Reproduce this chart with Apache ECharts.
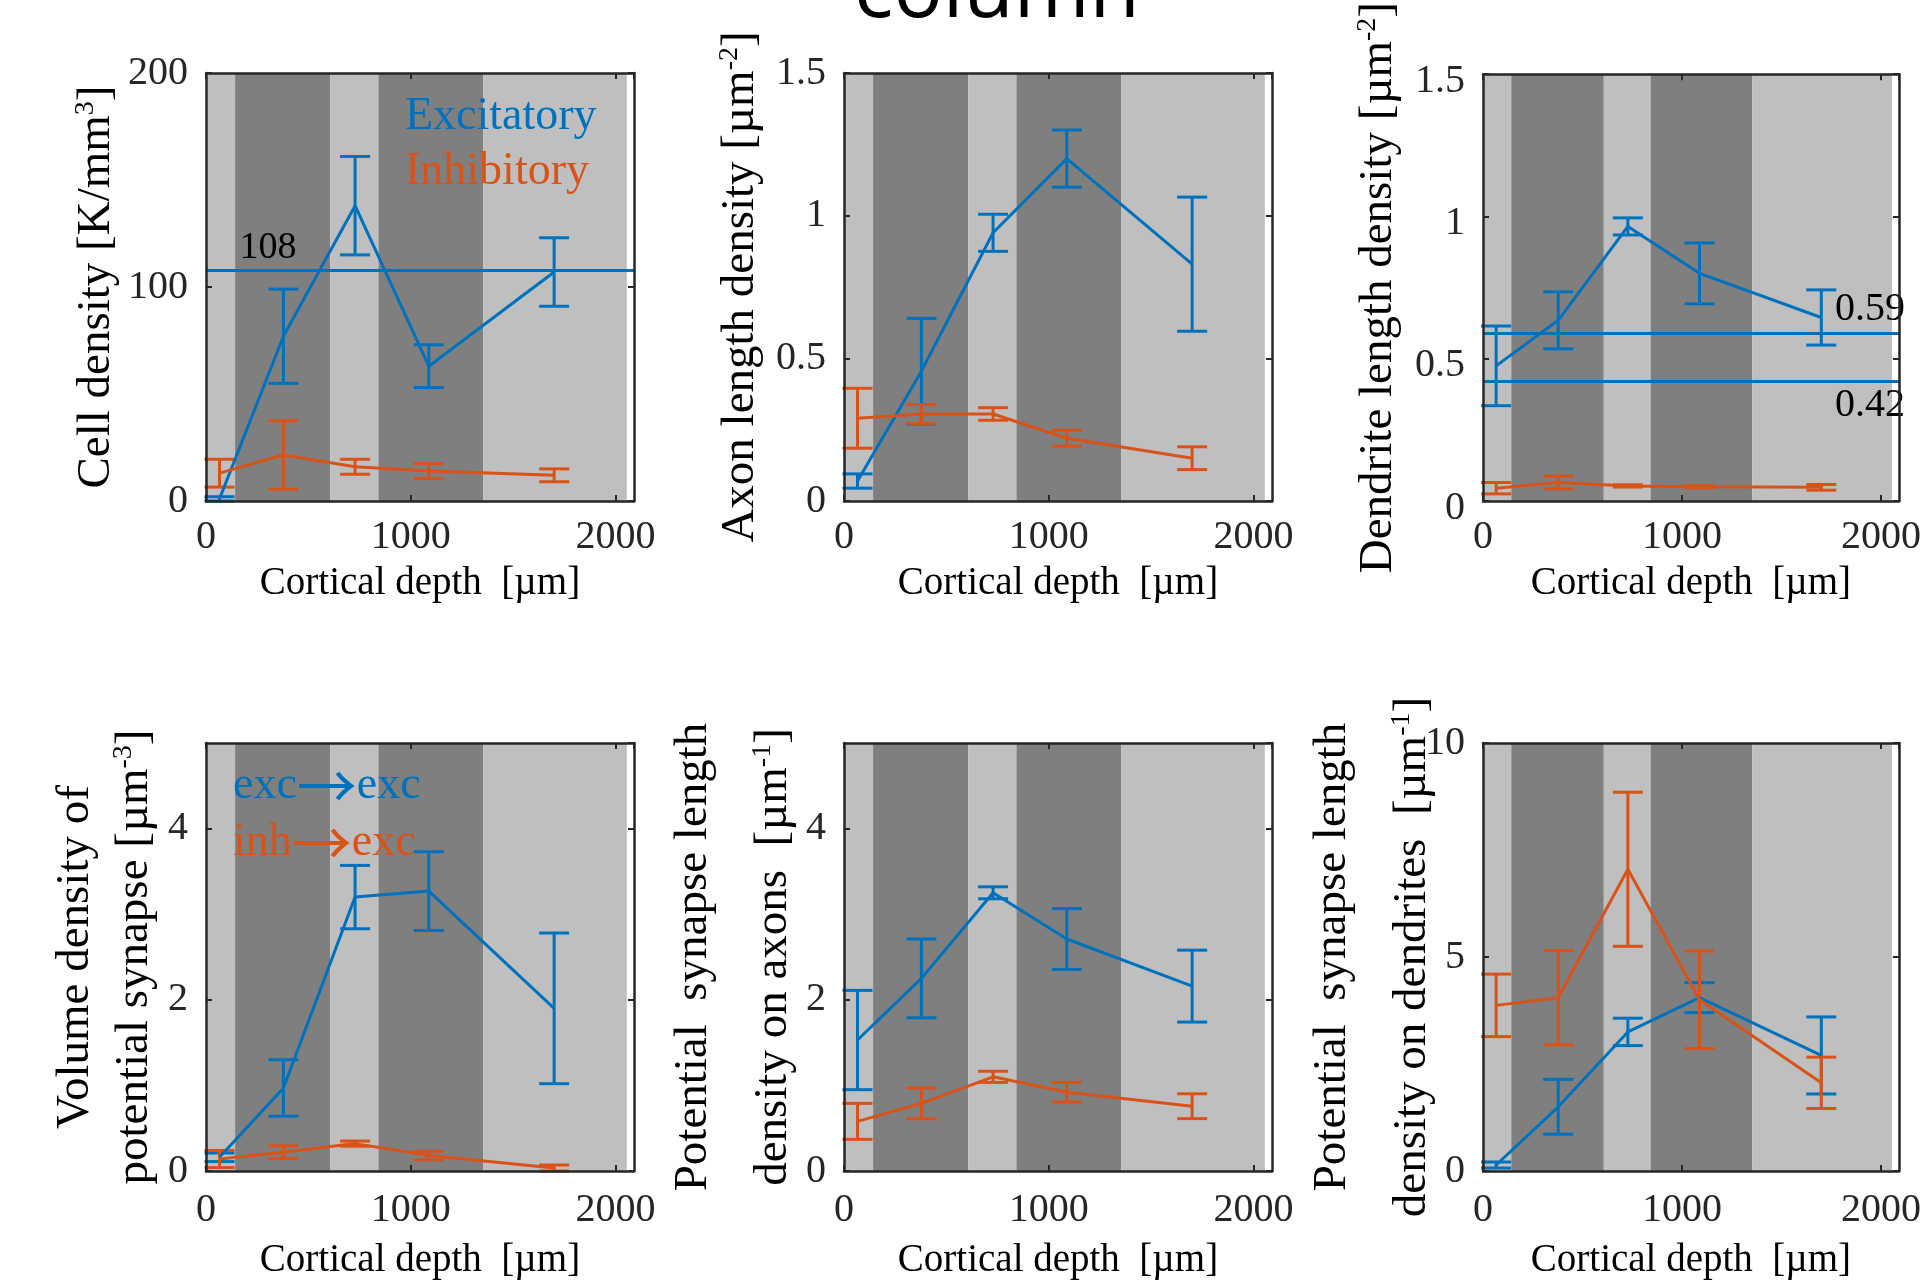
<html>
<head>
<meta charset="UTF-8">
<title>column</title>
<script src="https://cdn.jsdelivr.net/npm/echarts@6/dist/echarts.min.js"></script>
<style>
    html, body { margin: 0; padding: 0; background: #fff; }
    #main { width: 1924px; height: 1284px; }
</style>
</head>
<body>
<div id="main"></div>
<script>
// sample depths (um) and cortical layer edges
var depth = [66, 378, 728, 1088, 1700];
var layerEdges = [0, 142, 607, 842, 1353, 2055];
var yTicks = [[0, 200, 100], [0, 1.5, 0.5], [0, 1.5, 0.5], [0, 5, 2], [0, 5, 2], [0, 10, 5]];

// cell density [K/mm3]
var cellExc = [1, 77, 138, 63, 107];
var cellExcErr = [1, 22, 23, 10, 16];
var cellInh = [13, 21.5, 16, 14, 12];
var cellInhErr = [6.5, 16, 3.5, 3.5, 3];
var cellRef = [108];

// axon length density [um-2]
var axonExc = [0.07, 0.455, 0.94, 1.2, 0.83];
var axonExcErr = [0.025, 0.185, 0.065, 0.1, 0.235];
var axonInh = [0.29, 0.305, 0.305, 0.22, 0.15];
var axonInhErr = [0.105, 0.033, 0.022, 0.028, 0.04];

// dendrite length density [um-2]
var dendExc = [0.475, 0.635, 0.965, 0.8, 0.645];
var dendExcErr = [0.14, 0.1, 0.03, 0.107, 0.097];
var dendInh = [0.045, 0.065, 0.053, 0.05, 0.048];
var dendInhErr = [0.02, 0.022, 0.004, 0.004, 0.01];
var dendRef = [0.59, 0.42];

// volume density of potential synapses [um-3]
var volExc = [0.16, 0.97, 3.2, 3.27, 1.9];
var volExcErr = [0.05, 0.33, 0.37, 0.46, 0.88];
var volInh = [0.14, 0.22, 0.32, 0.18, 0.035];
var volInhErr = [0.1, 0.075, 0.03, 0.05, 0.035];

// potential synapse length density on axons [um-1]
var onAxExc = [1.53, 2.25, 3.25, 2.71, 2.16];
var onAxExcErr = [0.58, 0.46, 0.07, 0.355, 0.42];
var onAxInh = [0.58, 0.79, 1.1, 0.92, 0.757];
var onAxInhErr = [0.21, 0.18, 0.065, 0.115, 0.145];

// potential synapse length density on dendrites [um-1]
var onDeExc = [0.14, 1.5, 3.25, 4.05, 2.7];
var onDeExcErr = [0.07, 0.64, 0.32, 0.35, 0.9];
var onDeInh = [3.87, 4.05, 7.05, 4.0, 2.06];
var onDeInhErr = [0.73, 1.1, 1.8, 1.14, 0.6];

var blue = '#0072BD', orange = '#D95319', ink = '#262626';
var serif = '"Liberation Serif", "Times New Roman", serif';

// first line of two-line names gets a taller box to spread the lines
var panels = [
    {yName: 'Cell density [K/mm{sup|3}]', gap: 84, l1: 50,
     exc: cellExc, excErr: cellExcErr, inh: cellInh, inhErr: cellInhErr, names: ['Excitatory', 'Inhibitory']},
    {yName: 'Axon length density [µm{sup|-2}]', gap: 78, l1: 50,
     exc: axonExc, excErr: axonExcErr, inh: axonInh, inhErr: axonInhErr, names: ['Excitatory', 'Inhibitory']},
    {yName: 'Dendrite length density [µm{sup|-2}]', gap: 79, l1: 50,
     exc: dendExc, excErr: dendExcErr, inh: dendInh, inhErr: dendInhErr, names: ['Excitatory', 'Inhibitory']},
    {yName: '{l1|Volume density of}\npotential synapse [µm{sup|-3}]', gap: 46, l1: 68,
     exc: volExc, excErr: volExcErr, inh: volInh, inhErr: volInhErr, names: ['exc→exc', 'inh→exc']},
    {yName: '{l1|Potential  synapse length}\ndensity on axons  [µm{sup|-1}]', gap: 45, l1: 110,
     exc: onAxExc, excErr: onAxExcErr, inh: onAxInh, inhErr: onAxInhErr, names: ['exc→exc', 'inh→exc']},
    {yName: '{l1|Potential  synapse length}\ndensity on dendrites  [µm{sup|-1}]', gap: 45, l1: 110,
     exc: onDeExc, excErr: onDeExcErr, inh: onDeInh, inhErr: onDeInhErr, names: ['exc→exc', 'inh→exc']}
];

var colLeft = [206, 844, 1483];
var rowTop = [73, 743];
var size = 428;
var xMax = 2090;

function errRender(color) {
    return function (params, api) {
        var x = api.value(0);
        var lo = api.coord([x, api.value(1)]);
        var hi = api.coord([x, api.value(2)]);
        var hw = 15;
        var st = {stroke: color, lineWidth: 3};
        return {type: 'group', children: [
            {type: 'line', shape: {x1: lo[0], y1: lo[1], x2: hi[0], y2: hi[1]}, style: st},
            {type: 'line', shape: {x1: lo[0] - hw, y1: lo[1], x2: lo[0] + hw, y2: lo[1]}, style: st},
            {type: 'line', shape: {x1: hi[0] - hw, y1: hi[1], x2: hi[0] + hw, y2: hi[1]}, style: st}
        ]};
    };
}

function plain(v) { return String(v); }

var bands = [];
for (var b = 0; b < layerEdges.length - 1; b++) {
    bands.push([
        {xAxis: layerEdges[b], itemStyle: {color: b % 2 ? '#7f7f7f' : '#bfbfbf'}},
        {xAxis: layerEdges[b + 1]}
    ]);
}

var grids = [], xAxes = [], yAxes = [], series = [];

panels.forEach(function (p, i) {
    var row = Math.floor(i / 3), col = i % 3;
    grids.push({left: colLeft[col], top: rowTop[row], width: size, height: size});

    var line = {show: true, onZero: false, lineStyle: {color: ink, width: 2.5}};
    var tick = {show: true, inside: true, length: 6, lineStyle: {color: ink, width: 2}};
    xAxes.push({
        gridIndex: i, type: 'value', position: 'bottom', min: 0, max: xMax, interval: 1000, z: 10,
        axisLine: line, axisTick: tick, splitLine: {show: false},
        axisLabel: {fontSize: 40, fontFamily: serif, color: ink, margin: row ? 19 : 16,
                    showMaxLabel: false, formatter: plain},
        name: 'Cortical depth  [µm]', nameLocation: 'middle', nameGap: row ? 70 : 63, nameMoveOverlap: false,
        nameTextStyle: {fontSize: 39, fontFamily: serif, color: '#000'}
    });
    xAxes.push({
        gridIndex: i, type: 'value', position: 'top', min: 0, max: xMax, interval: 1000, z: 10,
        axisLine: line, axisTick: tick, splitLine: {show: false}, axisLabel: {show: false}
    });
    var yt = yTicks[i];
    var yLab = {fontSize: 40, fontFamily: serif, color: ink, margin: 18,
                showMaxLabel: i < 3 || i == 5, formatter: plain};
    if (i == 2) { yLab.verticalAlign = 'top'; yLab.lineHeight = 14; }
    yAxes.push({
        gridIndex: i, type: 'value', position: 'left', min: yt[0], max: yt[1], interval: yt[2], z: 10,
        axisLine: line, axisTick: tick, splitLine: {show: false},
        axisLabel: yLab,
        name: p.yName, nameLocation: 'middle', nameGap: p.gap, nameMoveOverlap: false,
        nameTextStyle: {fontSize: 47, fontFamily: serif, color: '#000', lineHeight: 50,
            rich: {
                sup: {fontSize: 28, fontFamily: serif, color: '#000', verticalAlign: 'top', lineHeight: 50},
                l1: {fontSize: 47, fontFamily: serif, color: '#000', lineHeight: p.l1}
            }}
    });
    yAxes.push({
        gridIndex: i, type: 'value', position: 'right', min: yt[0], max: yt[1], interval: yt[2], z: 10,
        axisLine: line, axisTick: tick, splitLine: {show: false}, axisLabel: {show: false}
    });

    var excLine = {
        name: p.names[0], type: 'line', xAxisIndex: 2 * i, yAxisIndex: 2 * i,
        data: depth.map(function (d, k) { return [d, p.exc[k]]; }),
        symbol: 'none', lineStyle: {color: blue, width: 3}, itemStyle: {color: blue},
        markArea: {silent: true, data: bands}
    };
    if (i == 0) {
        excLine.markLine = {silent: true, symbol: ['none', 'none'],
            lineStyle: {color: blue, width: 3, type: 'solid'},
            data: cellRef.map(function (v) { return {yAxis: v, label: {show: false}}; })};
        excLine.markPoint = {silent: true, symbol: 'circle', symbolSize: 0,
            data: cellRef.map(function (v) {
                return {coord: [303, v], label: {show: true, position: 'top', distance: 3, formatter: String(v),
                    fontSize: 38, fontFamily: serif, color: '#000'}};
            })};
    }
    if (i == 2) {
        excLine.markLine = {silent: true, symbol: ['none', 'none'],
            lineStyle: {color: blue, width: 3, type: 'solid'},
            data: dendRef.map(function (v, k) {
                return {yAxis: v, label: {show: true, position: k ? 'insideEndBottom' : 'insideEndTop',
                    formatter: String(v), distance: [-6, 4], fontSize: 40, fontFamily: serif, color: '#000'}};
            })};
    }
    series.push(excLine);
    series.push({
        name: p.names[0], type: 'custom', xAxisIndex: 2 * i, yAxisIndex: 2 * i,
        renderItem: errRender(blue), encode: {x: 0, y: [1, 2]},
        data: depth.map(function (d, k) { return [d, p.exc[k] - p.excErr[k], p.exc[k] + p.excErr[k]]; })
    });
    series.push({
        name: p.names[1], type: 'line', xAxisIndex: 2 * i, yAxisIndex: 2 * i,
        data: depth.map(function (d, k) { return [d, p.inh[k]]; }),
        symbol: 'none', lineStyle: {color: orange, width: 3}, itemStyle: {color: orange}
    });
    series.push({
        name: p.names[1], type: 'custom', xAxisIndex: 2 * i, yAxisIndex: 2 * i,
        renderItem: errRender(orange), encode: {x: 0, y: [1, 2]},
        data: depth.map(function (d, k) { return [d, p.inh[k] - p.inhErr[k], p.inh[k] + p.inhErr[k]]; })
    });
});

function legendRich(color) {
    return {fontSize: 46, fontFamily: serif, lineHeight: 46, color: color,
            rich: {arr: {fontSize: 60, fontFamily: '"Noto Sans CJK JP"', color: color, lineHeight: 46}}};
}

var myChart = echarts.init(document.getElementById('main'));
myChart.setOption({
    animation: false,
    backgroundColor: '#fff',
    grid: grids,
    xAxis: xAxes,
    yAxis: yAxes,
    legend: [
        {left: 400, top: 94, orient: 'vertical', icon: 'none', itemWidth: 0, itemGap: 9, padding: 0,
         selectedMode: false, textStyle: {fontSize: 46, fontFamily: serif, lineHeight: 46},
         data: [{name: 'Excitatory', textStyle: {color: blue}}, {name: 'Inhibitory', textStyle: {color: orange}}]},
        {left: 228, top: 756, orient: 'vertical', icon: 'none', itemWidth: 0, itemGap: -3, padding: 0,
         selectedMode: false, textStyle: legendRich(ink),
         formatter: function (name) { return name.replace('→', '{arr|→}'); },
         data: [{name: 'exc→exc', textStyle: legendRich(blue)}, {name: 'inh→exc', textStyle: legendRich(orange)}]}
    ],
    graphic: [{
        type: 'text', x: 997, y: -6,
        style: {text: 'column', font: '82px "Open Sans"', fill: '#000', align: 'center', verticalAlign: 'middle'}
    }],
    series: series
});
</script>
</body>
</html>
